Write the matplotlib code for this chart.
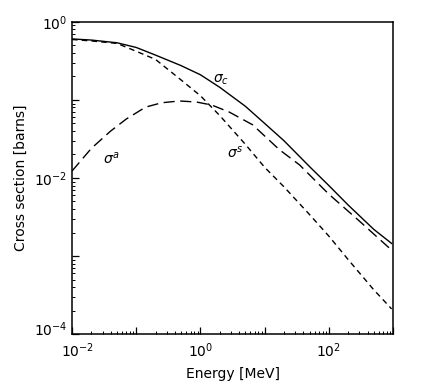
import matplotlib
matplotlib.use("Agg")
import matplotlib.pyplot as plt
import matplotlib.transforms as mtransforms
from matplotlib.ticker import LogLocator, FixedLocator, FixedFormatter, NullFormatter

# Data (energy in MeV, cross sections in barns)
energy_c = [0.01, 0.02, 0.05, 0.1, 0.2, 0.5, 1, 2, 5, 10, 20, 50, 100, 200, 500, 950]
sigma_c = [0.605, 0.585, 0.54, 0.47, 0.375, 0.275, 0.21, 0.145, 0.083, 0.05,
           0.03, 0.014, 0.0080, 0.0045, 0.0022, 0.00145]

energy_s = [0.01, 0.02, 0.05, 0.1, 0.2, 0.5, 1, 2, 5, 10, 20, 50, 100, 200, 500, 950]
sigma_s = [0.595, 0.57, 0.53, 0.42, 0.33, 0.18, 0.113, 0.063, 0.027, 0.0137,
           0.0077, 0.0034, 0.0018, 0.0009, 0.00037, 0.00021]

energy_a = [0.01, 0.02, 0.04, 0.07, 0.14, 0.25, 0.47, 0.87, 1.5, 2.8, 6.5, 17, 35, 100, 300, 950]
sigma_a = [0.0123, 0.024, 0.040, 0.057, 0.081, 0.092, 0.097, 0.094, 0.086, 0.070,
           0.048, 0.023, 0.0147, 0.0062, 0.0028, 0.00119]

x_major = [1e-2, 1e-1, 1e0, 1e1, 1e2, 1e3]
x_labels = [r"$10^{-2}$", "", r"$10^{0}$", "", r"$10^{2}$", ""]
y_major = [1e-4, 1e-3, 1e-2, 1e-1, 1e0]
y_labels = [r"$10^{-4}$", "", r"$10^{-2}$", "", r"$10^{0}$"]

fig = plt.figure(figsize=(4.24, 3.84), dpi=100)
ax = fig.add_axes([0.170, 0.130, 0.757, 0.813])

ax.plot(energy_c, sigma_c, color="black", lw=1.0)
ax.plot(energy_s, sigma_s, color="black", lw=1.0, dashes=(4, 3))
ax.plot(energy_a, sigma_a, color="black", lw=1.0, dashes=(8, 4))

ax.set_xscale("log")
ax.set_yscale("log")
ax.set_xlim(1e-2, 1e3)
ax.set_ylim(1e-4, 1e0)

ax.xaxis.set_major_locator(FixedLocator(x_major))
ax.xaxis.set_major_formatter(FixedFormatter(x_labels))
ax.xaxis.set_minor_locator(LogLocator(base=10, subs=range(2, 10), numticks=20))
ax.xaxis.set_minor_formatter(NullFormatter())
ax.yaxis.set_major_locator(FixedLocator(y_major))
ax.yaxis.set_major_formatter(FixedFormatter(y_labels))
ax.yaxis.set_minor_locator(LogLocator(base=10, subs=range(2, 10), numticks=20))
ax.yaxis.set_minor_formatter(NullFormatter())

ax.tick_params(which="both", direction="in", top=False, right=False, labelsize=10)
ax.tick_params(which="major", length=5, width=0.9)
ax.tick_params(which="minor", length=2.5, width=0.7)
ax.tick_params(axis="x", which="major", pad=5)
for sp in ax.spines.values():
    sp.set_linewidth(1.1)

# nudge the corner labels apart, as in the reference
ytick0 = ax.yaxis.get_major_ticks()[0]
ytick0.label1.set_transform(ytick0.label1.get_transform() +
                            mtransforms.ScaledTranslation(0, 4 / 72, fig.dpi_scale_trans))
xtick0 = ax.xaxis.get_major_ticks()[0]
xtick0.label1.set_transform(xtick0.label1.get_transform() +
                            mtransforms.ScaledTranslation(4 / 72, 0, fig.dpi_scale_trans))

ax.set_xlabel("Energy [MeV]", fontsize=10, labelpad=5)
ax.set_ylabel("Cross section [barns]", fontsize=10, labelpad=4)

ax.text(1.55, 0.165, r"$\sigma_c$", fontsize=10)
ax.text(2.6, 0.0185, r"$\sigma^s$", fontsize=10)
ax.text(0.03, 0.0155, r"$\sigma^a$", fontsize=10)

fig.savefig("out.png", dpi=100)
